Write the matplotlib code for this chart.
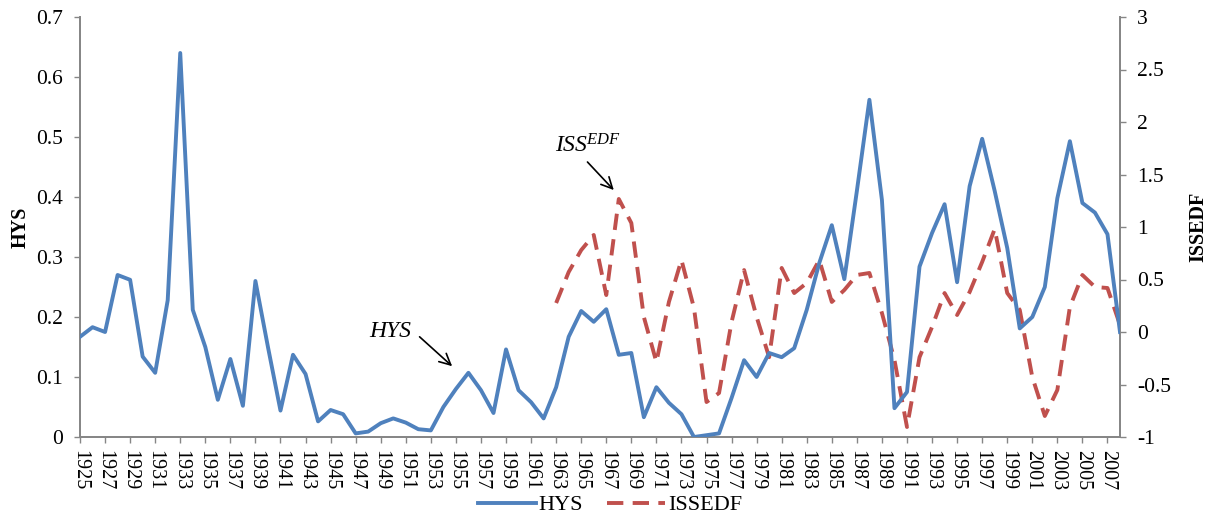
import numpy as np
import matplotlib.pyplot as plt
from matplotlib.ticker import FixedLocator

# ---- data ----
years = list(range(1925, 2009))

hys = [0.167, 0.183, 0.175, 0.270, 0.262, 0.134, 0.107, 0.228, 0.640, 0.212,
       0.150, 0.062, 0.130, 0.052, 0.260, 0.150, 0.044, 0.137, 0.105, 0.026,
       0.045, 0.038, 0.006, 0.009, 0.023, 0.031, 0.024, 0.013, 0.011, 0.050,
       0.080, 0.107, 0.078, 0.040, 0.146, 0.078, 0.058, 0.031, 0.083, 0.167,
       0.210, 0.192, 0.213, 0.137, 0.140, 0.033, 0.083, 0.057, 0.038, 0.000,
       0.003, 0.006, 0.065, 0.128, 0.100, 0.140, 0.133, 0.148, 0.212, 0.290,
       0.353, 0.263, 0.410, 0.562, 0.395, 0.048, 0.075, 0.284, 0.340, 0.388,
       0.258, 0.418, 0.497, 0.410, 0.315, 0.181, 0.200, 0.250, 0.398, 0.493,
       0.390, 0.374, 0.338, 0.175]

iss_years = list(range(1963, 2009))
issedf = [0.276, 0.571, 0.780, 0.924, 0.352, 1.267, 1.038, 0.143, -0.286, 0.286,
          0.686, 0.229, -0.667, -0.581, 0.095, 0.590, 0.143, -0.240, 0.610, 0.371,
          0.467, 0.686, 0.286, 0.400, 0.543, 0.562, 0.181, -0.267, -0.905, -0.240,
          0.048, 0.371, 0.162, 0.381, 0.667, 0.981, 0.371, 0.210, -0.429, -0.800,
          -0.552, 0.238, 0.543, 0.429, 0.419, 0.067]

blue = '#4F81BD'
red = '#C0504D'
grey = '#868686'

plt.rcParams['font.family'] = ['Liberation Serif', 'DejaVu Serif']
plt.rcParams['mathtext.fontset'] = 'custom'
plt.rcParams['mathtext.it'] = 'Liberation Serif:italic'
plt.rcParams['mathtext.rm'] = 'Liberation Serif'
fs = 15.5

fig = plt.figure(figsize=(12.13, 5.15), dpi=100)
ax = fig.add_axes([80 / 1213, 1 - 437 / 515, 1040 / 1213, 420 / 515])
ax2 = ax.twinx()

x = np.arange(len(years))
x_iss = np.array([years.index(y) for y in iss_years])

l1, = ax.plot(x, hys, color=blue, lw=2.8, label='HYS', zorder=3)
l2, = ax2.plot(x_iss, issedf, color=red, lw=2.8, ls=(0, (4.2, 2.4)), label='ISSEDF')
ax.set_zorder(ax2.get_zorder() + 1)
ax.patch.set_visible(False)

ax.set_xlim(0, len(years) - 1)
ax.set_ylim(0, 0.7)
ax2.set_ylim(-1, 3)
ax.set_yticks(np.arange(0, 0.71, 0.1))
ax.set_yticklabels(['0', '0.1', '0.2', '0.3', '0.4', '0.5', '0.6', '0.7'])
ax2.set_yticks(np.arange(-1, 3.01, 0.5))
ax2.set_yticklabels(['-1', '-0.5', '0', '0.5', '1', '1.5', '2', '2.5', '3'])

ax.xaxis.set_major_locator(FixedLocator(x[::2]))
ax.set_xticklabels([str(y) for y in years[::2]], rotation=-90)

for a in (ax, ax2):
    a.spines['top'].set_visible(False)
    for s in ('left', 'right', 'bottom'):
        a.spines[s].set_color(grey)
        a.spines[s].set_linewidth(1.3)
    a.tick_params(axis='both', color=grey, length=4.5, width=1.0, labelsize=fs, direction='out')
ax.tick_params(axis='x', pad=5, labelsize=14.5)
ax.tick_params(axis='y', pad=8)
ax2.tick_params(axis='y', pad=8)

ax.set_ylabel('HYS', fontsize=14.5, fontweight='bold', labelpad=4)
ax2.set_ylabel('ISSEDF', fontsize=14.5, fontweight='bold', labelpad=12)

# annotations: text and arrow placed separately
ax.text(23.1, 0.167, 'HYS', fontsize=17, style='italic', ha='left', va='baseline')
ax.annotate('', xy=(29.7, 0.118), xytext=(27.1, 0.167),
            arrowprops=dict(arrowstyle='->', color='black', lw=1.2, mutation_scale=20,
                            shrinkA=0, shrinkB=0))
ax2.text(37.9, 1.714, r'ISS$^{EDF}$', fontsize=17, style='italic', ha='left', va='baseline')
ax2.annotate('', xy=(42.6, 1.352), xytext=(40.5, 1.619),
             arrowprops=dict(arrowstyle='->', color='black', lw=1.2, mutation_scale=20,
                             shrinkA=0, shrinkB=0))

fig.legend(handles=[l1, l2], labels=['HYS', 'ISSEDF'], loc='center',
           bbox_to_anchor=(610 / 1213, 1 - 505 / 515), ncol=2, frameon=False,
           fontsize=16, handlelength=2.6, columnspacing=1.1, handletextpad=0.12,
           borderpad=0.1)

fig.savefig('out.png', dpi=100)
